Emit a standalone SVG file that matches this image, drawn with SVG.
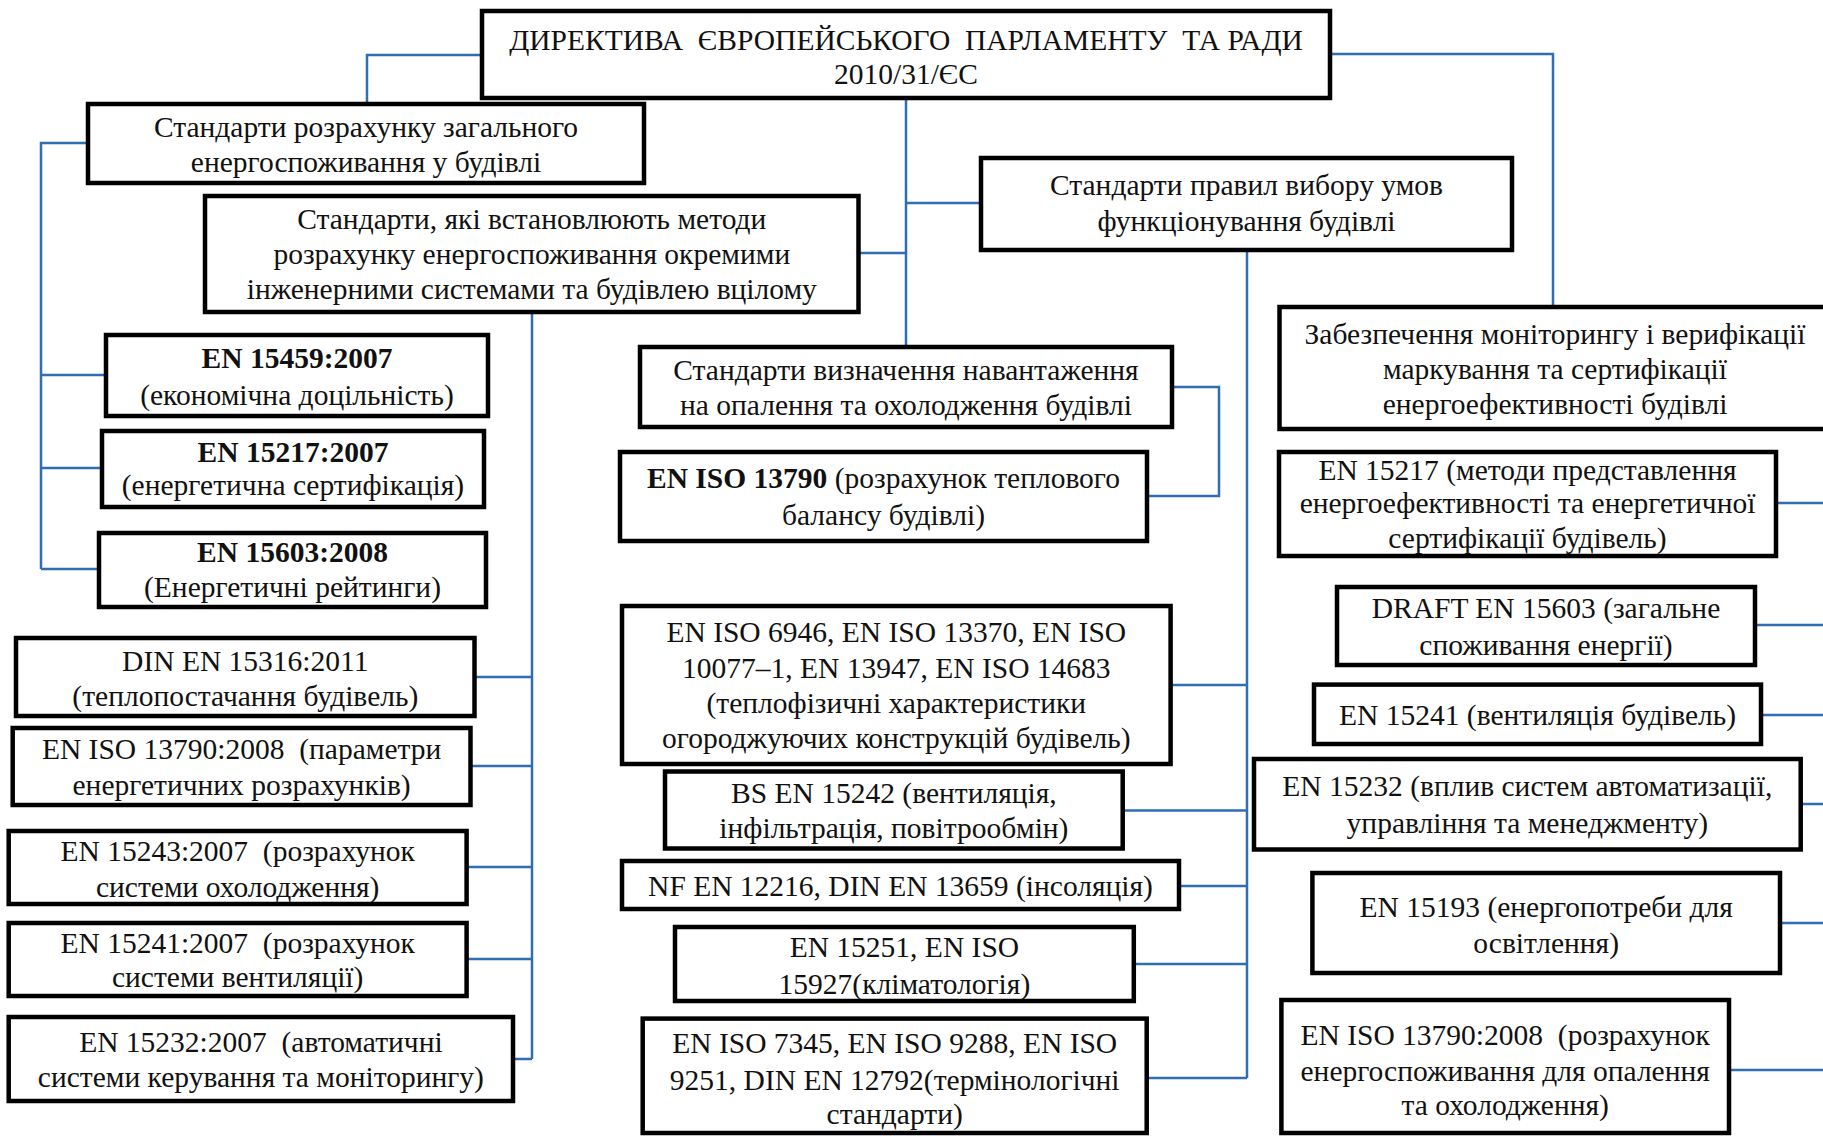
<svg xmlns="http://www.w3.org/2000/svg" width="1823" height="1136" viewBox="0 0 1823 1136">
  <style>
    .box { fill: #ffffff; stroke: #000000; stroke-width: 4.5; }
    .t { font-family: "Liberation Serif", "Times New Roman", serif; font-size: 29.5px; fill: #111111; text-anchor: middle; white-space: pre; }
    .b { font-weight: bold; }
    .link { fill: none; stroke: #2f6db5; stroke-width: 2.5; }
  </style>
  <rect width="1823" height="1136" fill="#ffffff"/>

  <!-- connectors -->
  <g id="connectors" class="link">
    <path d="M482,55 H367 V104"/>
    <path d="M1330,54 H1553 V307"/>
    <path d="M906,99 V347 M906,203 H981 M858.5,253 H906"/>
    <path d="M88,143 H41 V569 M41,375 H106 M41,468 H102 M41,569 H99"/>
    <path d="M532,312 V1059 M474.5,677 H532 M470.5,766 H532 M466.6,867 H532 M466.6,959 H532 M513,1059 H532"/>
    <path d="M1172,387 H1219 V496 H1147"/>
    <path d="M1247,250 V1078 M1170.6,685 H1247 M1122.7,810.5 H1247 M1179,886 H1247 M1133.8,964 H1247 M1146.8,1078 H1247"/>
    <path d="M1776,503 H1830 M1755,625 H1830 M1761,715 H1830 M1800.7,804 H1830 M1780,923 H1830 M1729,1070 H1830"/>
  </g>

  <g id="directive">
    <rect class="box" x="482" y="11" width="848" height="87"/>
    <text class="t" x="906" y="50">ДИРЕКТИВА  ЄВРОПЕЙСЬКОГО  ПАРЛАМЕНТУ  ТА РАДИ</text>
    <text class="t" x="906" y="84">2010/31/ЄС</text>
  </g>

  <g id="total-consumption">
    <rect class="box" x="88" y="104" width="556" height="79"/>
    <text class="t" x="366" y="137">Стандарти розрахунку загального</text>
    <text class="t" x="366" y="172">енергоспоживання у будівлі</text>
  </g>

  <g id="calc-methods">
    <rect class="box" x="205" y="196" width="653.5" height="116"/>
    <text class="t" x="531.8" y="229">Стандарти, які встановлюють методи</text>
    <text class="t" x="531.8" y="264">розрахунку енергоспоживання окремими</text>
    <text class="t" x="531.8" y="299">інженерними системами та будівлею вцілому</text>
  </g>

  <g id="operating-conditions">
    <rect class="box" x="981" y="158" width="531" height="92"/>
    <text class="t" x="1246.5" y="195">Стандарти правил вибору умов</text>
    <text class="t" x="1246.5" y="231">функціонування будівлі</text>
  </g>

  <g id="monitoring">
    <rect class="box" x="1279.5" y="307" width="550.5" height="122"/>
    <text class="t" x="1555" y="344">Забезпечення моніторингу і верифікації</text>
    <text class="t" x="1555" y="379">маркування та сертифікації</text>
    <text class="t" x="1555" y="414">енергоефективності будівлі</text>
  </g>

  <g id="en15459">
    <rect class="box" x="106" y="335" width="382" height="81"/>
    <text class="t b" x="297" y="368">EN 15459:2007</text>
    <text class="t" x="297" y="405">(економічна доцільність)</text>
  </g>

  <g id="en15217-2007">
    <rect class="box" x="102" y="431" width="382" height="76"/>
    <text class="t b" x="293" y="462">EN 15217:2007</text>
    <text class="t" x="293" y="495">(енергетична сертифікація)</text>
  </g>

  <g id="en15603-2008">
    <rect class="box" x="99" y="533" width="387" height="74"/>
    <text class="t b" x="292.5" y="562">EN 15603:2008</text>
    <text class="t" x="292.5" y="597">(Енергетичні рейтинги)</text>
  </g>

  <g id="heating-cooling-load">
    <rect class="box" x="640" y="347" width="532" height="80"/>
    <text class="t" x="906" y="380">Стандарти визначення навантаження</text>
    <text class="t" x="906" y="415">на опалення та охолодження будівлі</text>
  </g>

  <g id="en-iso-13790">
    <rect class="box" x="620" y="452" width="527" height="89"/>
    <text class="t" x="883.5" y="488"><tspan class="b">EN ISO 13790</tspan> (розрахунок теплового</text>
    <text class="t" x="883.5" y="525">балансу будівлі)</text>
  </g>

  <g id="thermal-properties">
    <rect class="box" x="622" y="606" width="548.6" height="158"/>
    <text class="t" x="896.3" y="642">EN ISO 6946, EN ISO 13370, EN ISO</text>
    <text class="t" x="896.3" y="677.5">10077–1, EN 13947, EN ISO 14683</text>
    <text class="t" x="896.3" y="713">(теплофізичні характеристики</text>
    <text class="t" x="896.3" y="748.4">огороджуючих конструкцій будівель)</text>
  </g>

  <g id="en15217">
    <rect class="box" x="1279" y="452" width="497" height="104"/>
    <text class="t" x="1527.5" y="480">EN 15217 (методи представлення</text>
    <text class="t" x="1527.5" y="513">енергоефективності та енергетичної</text>
    <text class="t" x="1527.5" y="548">сертифікації будівель)</text>
  </g>

  <g id="draft-en15603">
    <rect class="box" x="1337" y="587" width="418" height="78"/>
    <text class="t" x="1546" y="618">DRAFT EN 15603 (загальне</text>
    <text class="t" x="1546" y="655">споживання енергії)</text>
  </g>

  <g id="din-en15316">
    <rect class="box" x="16" y="638" width="458.5" height="78"/>
    <text class="t" x="245.3" y="671">DIN EN 15316:2011</text>
    <text class="t" x="245.3" y="706">(теплопостачання будівель)</text>
  </g>

  <g id="en-iso-13790-2008-params">
    <rect class="box" x="12.7" y="728" width="457.8" height="77"/>
    <text class="t" x="241.6" y="759">EN ISO 13790:2008  (параметри</text>
    <text class="t" x="241.6" y="795">енергетичних розрахунків)</text>
  </g>

  <g id="en15243">
    <rect class="box" x="8.7" y="831" width="457.9" height="73"/>
    <text class="t" x="237.7" y="861">EN 15243:2007  (розрахунок</text>
    <text class="t" x="237.7" y="897">системи охолодження)</text>
  </g>

  <g id="en15241-2007">
    <rect class="box" x="8.7" y="923" width="457.9" height="73"/>
    <text class="t" x="237.7" y="953">EN 15241:2007  (розрахунок</text>
    <text class="t" x="237.7" y="987">системи вентиляції)</text>
  </g>

  <g id="en15232-2007">
    <rect class="box" x="8.7" y="1017" width="504.3" height="84"/>
    <text class="t" x="260.9" y="1052">EN 15232:2007  (автоматичні</text>
    <text class="t" x="260.9" y="1087">системи керування та моніторингу)</text>
  </g>

  <g id="bs-en15242">
    <rect class="box" x="665" y="771.5" width="457.7" height="77"/>
    <text class="t" x="893.9" y="803.4">BS EN 15242 (вентиляція,</text>
    <text class="t" x="893.9" y="838">інфільтрація, повітрообмін)</text>
  </g>

  <g id="insolation">
    <rect class="box" x="622" y="861" width="557" height="48"/>
    <text class="t" x="900.5" y="895.6">NF EN 12216, DIN EN 13659 (інсоляція)</text>
  </g>

  <g id="climatology">
    <rect class="box" x="675" y="927" width="458.8" height="74"/>
    <text class="t" x="904.4" y="957">EN 15251, EN ISO</text>
    <text class="t" x="904.4" y="994">15927(кліматологія)</text>
  </g>

  <g id="terminology">
    <rect class="box" x="642.7" y="1018.6" width="504" height="114.4"/>
    <text class="t" x="894.7" y="1052.7">EN ISO 7345, EN ISO 9288, EN ISO</text>
    <text class="t" x="894.7" y="1090">9251, DIN EN 12792(термінологічні</text>
    <text class="t" x="894.7" y="1124">стандарти)</text>
  </g>

  <g id="en15241">
    <rect class="box" x="1314" y="684.6" width="447" height="59.4"/>
    <text class="t" x="1537.5" y="725.4">EN 15241 (вентиляція будівель)</text>
  </g>

  <g id="en15232">
    <rect class="box" x="1254" y="759" width="546.7" height="90.5"/>
    <text class="t" x="1527.3" y="796">EN 15232 (вплив систем автоматизації,</text>
    <text class="t" x="1527.3" y="832.5">управління та менеджменту)</text>
  </g>

  <g id="en15193">
    <rect class="box" x="1312.4" y="873" width="467.6" height="100"/>
    <text class="t" x="1546.2" y="917">EN 15193 (енергопотреби для</text>
    <text class="t" x="1546.2" y="953">освітлення)</text>
  </g>

  <g id="en-iso-13790-2008-energy">
    <rect class="box" x="1281.4" y="1000" width="447.6" height="133"/>
    <text class="t" x="1505.2" y="1044.5">EN ISO 13790:2008  (розрахунок</text>
    <text class="t" x="1505.2" y="1080.7">енергоспоживання для опалення</text>
    <text class="t" x="1505.2" y="1115">та охолодження)</text>
  </g>
</svg>
